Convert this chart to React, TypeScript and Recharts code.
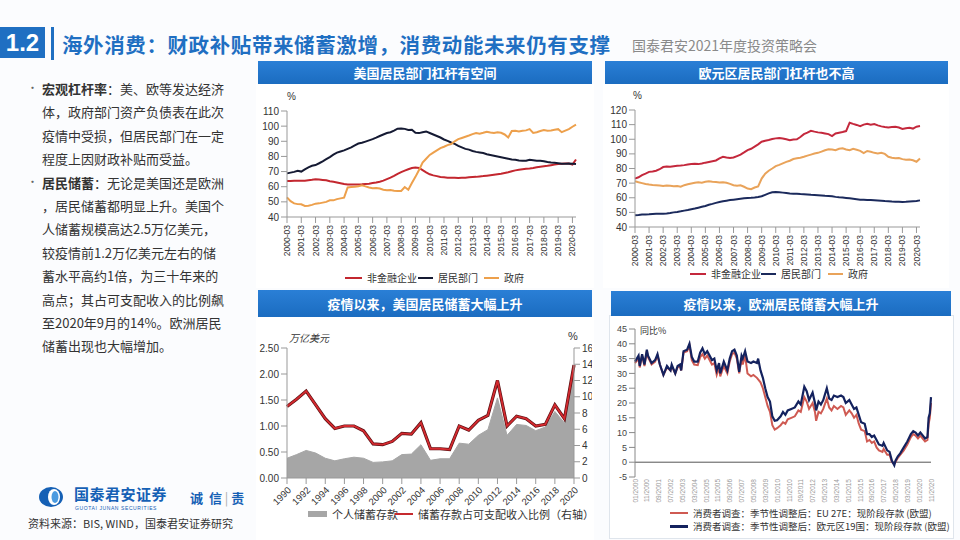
import React from 'react';
import { LineChart, Line, ComposedChart, Area, XAxis, YAxis, ReferenceLine } from 'recharts';

const FONT = '"Noto Sans CJK SC", "Liberation Sans", sans-serif';
const NUM_FONT = '"Liberation Sans", Arial, sans-serif';

// ---- US leverage, quarterly 2000-03 .. 2020-06 (% of GDP)
const US_CORP = [
  63.8, 63.8, 64, 64, 63.9, 64, 64.3, 64.6, 65, 64.8, 64.5, 64.2, 63.6, 63.3, 62.8, 62.3,
  61.8, 61.5, 61.5, 61.4, 61.5, 61.6, 61.8, 62, 62.4, 62.8, 63.3, 64, 65, 66, 67.2, 68.5,
  69.6, 70.6, 71.5, 72.3, 72.7, 72.4, 71, 69.5, 68.2, 67.5, 67, 66.4, 66.2, 66, 66, 65.9,
  65.8, 65.9, 66, 66.2, 66.4, 66.5, 66.8, 67, 67.3, 67.6, 67.9, 68.2, 68.5, 69, 69.5, 70.2,
  70.8, 71.2, 71.5, 71.8, 72, 72.3, 72.8, 73.2, 73.5, 73.8, 74.2, 74.6, 75, 75.2, 75.3, 75.3,
  74.6, 78,
];
const US_HOUSE = [
  68.8, 69.3, 69.8, 70.5, 70, 71.5, 72.8, 73.8, 74.3, 75.5, 76.8, 78.2, 79.6, 81.2, 82.5, 83.3,
  84, 85, 86, 87.3, 88.5, 89, 89.8, 90.6, 91.4, 92.4, 93.5, 94.5, 95.5, 96, 97, 98.3,
  98.5, 98.2, 97.5, 97.6, 95.6, 95.4, 96, 96.5, 95.5, 94.5, 93.5, 92.5, 91.2, 90.3, 89.2, 88.3,
  87, 86, 85, 84.5, 83.6, 83, 82.6, 82.2, 81.5, 81, 80.5, 80, 79.5, 79, 78.5, 78,
  77.8, 77.3, 77.1, 77.2, 77.8, 77.5, 77.2, 77.2, 76.8, 76.3, 76, 75.8, 75.5, 75.2, 75.1, 75.3,
  75.2, 75,
];
const US_GOV = [
  53, 50.5, 49, 48.5, 48.4, 47.3, 47.5, 48, 48.8, 49, 49.5, 50, 51, 51, 51.8, 52.3,
  52.8, 59.5, 59.8, 60, 60.3, 61, 60.2, 59.5, 59, 59.2, 58.8, 58, 57.7, 57.8, 57.3, 57.2,
  57.2, 59.8, 58, 62.5, 66.5, 71, 76, 78.5, 81, 82.5, 84, 85.5, 86.4, 87.5, 88.2, 90,
  91.4, 92.2, 93, 93.8, 94.7, 95.5, 95, 95.6, 96.3, 95.8, 95.5, 96, 95.6, 94.5, 92.5, 96.8,
  97, 96.5, 97, 97.2, 98, 95.5, 96, 96.8, 97.4, 97, 97.2, 97.6, 98, 96, 97, 98,
  99.6, 101,
];

// ---- Euro area leverage, quarterly 2000-03 .. 2020-06
const EA_CORP = [
  73.1, 74, 75.5, 76.5, 77.7, 78, 78.5, 79.5, 81, 81.3, 81.2, 81.5, 81.8, 82, 82.3, 82.8,
  83, 83.2, 83, 83.4, 84, 84.5, 85, 85.5, 86.9, 88, 87.5, 87.2, 87.5, 88.5, 89.5, 91,
  92.6, 93.5, 95, 96.5, 98.3, 99, 99.5, 100.2, 100.6, 100.8, 100.5, 100, 99.4, 99.8, 100, 101.5,
  103.5, 104.5, 105.8, 105.2, 104.7, 104.5, 104, 103.5, 102.2, 104, 104.5, 105, 105.6, 111.3, 110.5, 109.8,
  109, 110, 110.5, 110, 110.4, 109.5, 108.8, 108.4, 108.1, 108.3, 108.5, 108, 107, 107.5, 107.8, 107.3,
  108.6, 109,
];
const EA_HOUSE = [
  48, 48.2, 48.5, 48.6, 48.7, 48.9, 49, 49, 49.1, 49.3, 49.6, 50, 50.3, 50.7, 51.2, 51.6,
  52.1, 52.6, 53.2, 53.8, 54.4, 55.2, 55.8, 56.5, 57.1, 57.6, 58, 58.4, 58.7, 59, 59.3, 59.6,
  59.9, 60, 60.2, 60.5, 61, 62, 63, 63.8, 64, 63.8, 63.5, 63.2, 62.9, 62.8, 62.7, 62.5,
  62.4, 62.2, 62, 61.9, 61.7, 61.5, 61.3, 61.2, 61, 60.6, 60.3, 60.1, 59.9, 59.6, 59.3, 59,
  58.7, 58.6, 58.5, 58.4, 58.3, 58.1, 57.9, 57.7, 57.6, 57.4, 57.3, 57.2, 57.1, 57.2, 57.4, 57.6,
  57.8, 58.2,
];
const EA_GOV = [
  71.3, 70.6, 70, 69.4, 69, 68.7, 68.5, 68.3, 68.1, 68.4, 68.2, 67.9, 68, 67.5, 68.6, 69.2,
  69.7, 70.2, 70.6, 70.3, 70.9, 71.3, 71, 70.8, 70.4, 70.6, 70.2, 69.5, 68.6, 68.2, 68.5, 67.5,
  66.3, 65.8, 67, 67.8, 73.1, 76.5, 78.5, 80, 81.6, 82.5, 83.5, 84.5, 85.3, 86.5, 87, 87.4,
  88, 88.8, 89.5, 90.2, 90.7, 91.5, 92.5, 93.2, 93, 92.5, 93.5, 93.8, 93, 92.5, 93.4, 92.8,
  92.1, 90.5, 92, 91.5, 90.7, 90.3, 90.8, 90, 88, 87.4, 87, 87.2, 86.4, 86, 86.2, 85.6,
  84.6, 86.9,
];

const QUARTERS = US_CORP.map((_, i) => `${2000 + Math.floor(i / 4)}-${['03', '06', '09', '12'][i % 4]}`);

// ---- US personal saving, annual
const YEARS = [
  1990, 1991, 1992, 1993, 1994, 1995, 1996, 1997, 1998, 1999, 2000, 2001, 2002, 2003, 2004, 2005,
  2006, 2007, 2008, 2009, 2010, 2011, 2012, 2013, 2014, 2015, 2016, 2017, 2018, 2019, 2020,
];
const SAVING = [
  0.38, 0.45, 0.53, 0.48, 0.38, 0.33, 0.37, 0.4, 0.38, 0.3, 0.31, 0.33, 0.45, 0.46, 0.64, 0.34,
  0.37, 0.37, 0.67, 0.65, 0.82, 0.93, 1.54, 0.82, 1.03, 1.01, 0.91, 0.98, 1.28, 1.06, 2.16,
];
const SAVING_RATIO = [
  8.8, 9.7, 10.7, 9.0, 7.3, 6.1, 6.4, 6.4, 5.8, 4.2, 4.1, 4.5, 5.5, 5.4, 6.8, 3.6,
  3.6, 3.5, 6.4, 5.9, 7.1, 7.7, 12.0, 6.4, 7.6, 7.3, 6.4, 6.6, 9.0, 7.3, 13.9,
];
const YEAR_TICKS = [1990, 1992, 1994, 1996, 1998, 2000, 2002, 2004, 2006, 2008, 2010, 2012, 2014, 2016, 2018, 2020];

// ---- European deposits, months since 01/2000
const EU_MONTH = [
  0, 3, 4, 6, 8, 10, 11, 14, 17, 19, 21, 24, 27, 30, 31, 34, 36, 38, 39, 41, 44, 46, 48, 50, 53,
  55, 57, 59, 61, 63, 65, 67, 69, 71, 72, 75, 78, 80, 82, 84, 86, 88, 90, 91, 93, 95, 98, 100, 103,
  104, 106, 108, 110, 112, 114, 116, 118, 120, 123, 125, 127, 129, 132, 135, 138, 140, 143, 145, 147,
  150, 152, 153, 155, 157, 159, 162, 164, 166, 168, 171, 174, 176, 178, 181, 183, 185, 187, 189, 191,
  194, 196, 198, 200, 202, 204, 206, 209, 210, 213, 215, 217, 219, 220, 222, 224, 227, 230, 233, 235,
  237, 239, 241, 243, 245, 247, 248, 249, 250,
];
const EZ19 = [
  34, 36, 32.5, 36.5, 33, 38, 36, 33.5, 34.5, 36.5, 33, 29.5, 32.5, 31, 33, 30, 32.5, 33, 31, 37.5, 38, 40, 35.5, 34, 34,
  37, 38.5, 36.5, 37.5, 36, 34.5, 35, 31, 33.5, 30, 34, 31, 35, 37.5, 38, 36, 30.5, 36, 35, 37.5, 34, 33.5, 34, 33.5,
  35, 31, 28.5, 25, 22, 20.5, 15.5, 14, 14.2, 15.5, 17, 16, 17.5, 18, 18.5, 20.5, 19.5, 25.5, 24, 21,
  23.5, 20, 17.5, 20.5, 19.5, 21, 25, 21.5, 21, 22.5, 22, 22.5, 22, 20, 21, 19.5, 18, 18.5, 16, 13.5,
  13, 9.5, 9.5, 8.5, 9, 7.5, 6, 5.5, 6.5, 4, 3.5, 0.5, -1, 0.5, 2, 3, 5, 7, 9.5, 10.5,
  10, 9, 10, 9, 8, 8.5, 15, 16.5, 22,
];
const EU27 = [
  33.5, 35, 32, 36, 32.5, 37.5, 35.5, 33, 34, 36, 33, 29.5, 32, 31, 32.5, 30, 32, 32.5, 31, 37, 37.5, 39.5, 34.5, 33, 32.8,
  35.5, 36.5, 35, 36, 34.5, 33, 33.5, 29.5, 32, 29, 32.5, 30, 34, 36.5, 37, 35, 30, 35, 33, 36, 30, 29, 29.5, 28.5,
  28, 27, 25, 22, 19, 17, 12.5, 11, 11.5, 12.5, 13.5, 13, 14.5, 15, 15.5, 17.5, 17, 22, 20.5, 18,
  20, 17, 14, 17, 16.5, 18, 21.5, 18.5, 17.5, 19, 18, 19, 18.5, 16, 17.5, 16.5, 15, 16, 13, 11,
  10.5, 7, 7.5, 6.5, 7, 5, 4, 3.5, 4.5, 2.5, 2.5, 0, -0.5, 0, 1.5, 2.5, 4, 6, 8.5, 9.5,
  9, 8, 9, 8, 7, 7.5, 13, 15, 20,
];
const MONTH_TICKS = [0, 10, 20, 30, 40, 50, 60, 70, 80, 90, 100, 110, 120, 130, 140, 150, 160, 170, 180, 190, 200, 210, 220, 230, 240, 250];
const MONTH_LABELS = [
  '01/2000', '11/2000', '09/2001', '07/2002', '05/2003', '03/2004', '01/2005', '11/2005', '09/2006',
  '07/2007', '05/2008', '03/2009', '01/2010', '11/2010', '09/2011', '07/2012', '05/2013', '03/2014',
  '01/2015', '11/2015', '09/2016', '07/2017', '05/2018', '03/2019', '01/2020', '11/2020',
];

const usRows = QUARTERS.map((q, i) => ({ q, corp: US_CORP[i], house: US_HOUSE[i], gov: US_GOV[i] }));
const eaRows = QUARTERS.map((q, i) => ({ q, corp: EA_CORP[i], house: EA_HOUSE[i], gov: EA_GOV[i] }));
const savingRows = YEARS.map((y, i) => ({ y, saving: SAVING[i], ratio: SAVING_RATIO[i] }));
const depositRows = EU_MONTH.map((m, i) => ({ m, ez: EZ19[i], eu: EU27[i] }));

const BLUE = '#1f6fc2';
const axisTick = { fontSize: 10, fill: '#333', fontFamily: NUM_FONT };

const TitleBar = ({ x, y, w, h, text }: { x: number; y: number; w: number; h: number; text: string }) => (
  <div
    style={{
      position: 'absolute', left: x, top: y, width: w, height: h,
      background: 'linear-gradient(#2a7fd6, #1b6cc0)', color: '#fff', fontWeight: 700,
      fontSize: 13, lineHeight: `${h}px`, textAlign: 'center', fontFamily: FONT,
    }}
  >
    {text}
  </div>
);

const Key = ({ x, y, color, text, w = 16, thick = 2, size = 10 }: any) => (
  <div style={{ position: 'absolute', left: x, top: y, height: 12, lineHeight: '12px', display: 'flex', alignItems: 'center', fontFamily: FONT, fontSize: size, color: '#333', whiteSpace: 'nowrap' }}>
    <span style={{ display: 'inline-block', width: w, height: thick, background: color, marginRight: 5 }} />
    {text}
  </div>
);

const Abs = ({ x, y, children, style }: any) => (
  <div style={{ position: 'absolute', left: x, top: y, whiteSpace: 'nowrap', ...style }}>{children}</div>
);

const LINES = [
  [<b key="b">宏观杠杆率</b>, '：美、欧等发达经济'],
  ['体，政府部门资产负债表在此次'],
  ['疫情中受损，但居民部门在一定'],
  ['程度上因财政补贴而受益。'],
  [<b key="b">居民储蓄</b>, '：无论是美国还是欧洲'],
  ['，居民储蓄都明显上升。美国个'],
  ['人储蓄规模高达2.5万亿美元，'],
  ['较疫情前1.2万亿美元左右的储'],
  ['蓄水平高约1倍，为三十年来的'],
  ['高点；其占可支配收入的比例飙'],
  ['至2020年9月的14%。欧洲居民'],
  ['储蓄出现也大幅增加。'],
];

export default function App() {
  return (
    <div style={{ position: 'fixed', left: 0, top: 0, width: 960, height: 540, background: '#fbfcfe', overflow: 'hidden', fontFamily: FONT }}>
      {/* header */}
      <div style={{ position: 'absolute', left: 0, top: 27, width: 45, height: 31, background: BLUE, color: '#fff', fontWeight: 700, fontSize: 24, lineHeight: '31px', textAlign: 'center', fontFamily: NUM_FONT }}>1.2</div>
      <div style={{ position: 'absolute', left: 51, top: 27, width: 3, height: 33, background: BLUE }} />
      <Abs x={62} y={29} style={{ fontSize: 20.5, fontWeight: 700, color: BLUE, letterSpacing: 0.6 }}>海外消费：财政补贴带来储蓄激增，消费动能未来仍有支撑</Abs>
      <Abs x={632} y={35} style={{ fontSize: 14, color: '#8a8a8a' }}>国泰君安2021年度投资策略会</Abs>

      {/* left text */}
      {LINES.map((ln, i) => (
        <Abs key={i} x={42} y={79 + i * 23.4} style={{ fontSize: 13, color: '#333' }}>{ln}</Abs>
      ))}
      <Abs x={27} y={79} style={{ fontSize: 11, color: '#666' }}>•</Abs>
      <Abs x={27} y={79 + 4 * 23.4} style={{ fontSize: 11, color: '#666' }}>•</Abs>

      {/* logo */}
      <svg style={{ position: 'absolute', left: 38, top: 486 }} width={26} height={22}>
        <ellipse cx={13} cy={11} rx={12} ry={10} fill="#1560b5" />
        <ellipse cx={16} cy={11} rx={6} ry={8} fill="#fff" />
        <ellipse cx={17} cy={11} rx={3.5} ry={6} fill="#4a9ae0" />
      </svg>
      <Abs x={74} y={484} style={{ fontSize: 15, lineHeight: '20px', fontWeight: 700, color: '#1560b5', letterSpacing: 0.5 }}>国泰君安证券</Abs>
      <Abs x={75} y={505} style={{ fontSize: 5, lineHeight: '6px', color: '#1560b5', fontFamily: NUM_FONT, letterSpacing: 0.6 }}>GUOTAI JUNAN SECURITIES</Abs>
      <Abs x={190} y={488} style={{ fontSize: 13, color: '#1560b5', fontWeight: 700 }}>诚&nbsp;&nbsp;信&nbsp;<span style={{ color: '#aaa', fontWeight: 400 }}>|</span>&nbsp;责</Abs>
      <Abs x={28} y={515} style={{ fontSize: 11, color: '#333' }}>资料来源：BIS, WIND，国泰君安证券研究</Abs>

      {/* panels */}
      <div style={{ position: 'absolute', left: 256, top: 84, width: 338, height: 204, background: '#fff' }} />
      <div style={{ position: 'absolute', left: 603, top: 84, width: 346, height: 204, background: '#fff' }} />
      <div style={{ position: 'absolute', left: 256, top: 317, width: 338, height: 223, background: '#fff' }} />
      <div style={{ position: 'absolute', left: 609, top: 315, width: 343, height: 222, background: '#fff', border: '1px solid #dfe5ec' }} />

      <TitleBar x={258} y={61} w={334} h={23} text="美国居民部门杠杆有空间" />
      <TitleBar x={605} y={61} w={343} h={23} text="欧元区居民部门杠杆也不高" />
      <TitleBar x={258} y={290} w={334} h={27} text="疫情以来，美国居民储蓄大幅上升" />
      <TitleBar x={611} y={291} w={340} h={25} text="疫情以来，欧洲居民储蓄大幅上升" />

      {/* chart 1: US leverage */}
      <Abs x={287} y={91} style={{ fontSize: 10, color: '#333', fontFamily: NUM_FONT }}>%</Abs>
      <div style={{ position: 'absolute', left: 258, top: 84 }}>
        <LineChart width={334} height={176} data={usRows} margin={{ top: 27, right: 16, bottom: 0, left: 3 }}>
          <XAxis dataKey="q" interval={3} angle={-90} textAnchor="end" height={43} dx={-3} tick={{ fontSize: 8.5, fill: '#333', fontFamily: NUM_FONT }} tickLine={{ stroke: '#999' }} axisLine={{ stroke: '#999' }} />
          <YAxis domain={[40, 110]} ticks={[40, 50, 60, 70, 80, 90, 100, 110]} interval={0} width={26} tick={axisTick} tickLine={{ stroke: '#999' }} axisLine={{ stroke: '#999' }} />
          <Line dataKey="corp" stroke="#c3272f" strokeWidth={2} dot={false} isAnimationActive={false} />
          <Line dataKey="house" stroke="#151a33" strokeWidth={2} dot={false} isAnimationActive={false} />
          <Line dataKey="gov" stroke="#eda04c" strokeWidth={2} dot={false} isAnimationActive={false} />
        </LineChart>
      </div>
      <Key x={345} y={272} color="#c3272f" text="非金融企业" w={17} />
      <Key x={418} y={272} color="#151a33" text="居民部门" w={15} />
      <Key x={484} y={272} color="#eda04c" text="政府" w={15} />

      {/* chart 2: Euro area leverage */}
      <Abs x={633} y={90} style={{ fontSize: 10, color: '#333', fontFamily: NUM_FONT }}>%</Abs>
      <div style={{ position: 'absolute', left: 600, top: 84 }}>
        <LineChart width={345} height={182} data={eaRows} margin={{ top: 26, right: 25, bottom: 0, left: 7 }}>
          <XAxis dataKey="q" interval={3} angle={-90} textAnchor="end" height={39} dx={-3} tick={{ fontSize: 8.5, fill: '#333', fontFamily: NUM_FONT }} tickLine={{ stroke: '#999' }} axisLine={{ stroke: '#999' }} />
          <YAxis domain={[40, 120]} ticks={[40, 50, 60, 70, 80, 90, 100, 110, 120]} interval={0} width={28} tick={axisTick} tickLine={{ stroke: '#999' }} axisLine={{ stroke: '#999' }} />
          <Line dataKey="corp" stroke="#c4283c" strokeWidth={2} dot={false} isAnimationActive={false} />
          <Line dataKey="house" stroke="#1b2a5c" strokeWidth={2} dot={false} isAnimationActive={false} />
          <Line dataKey="gov" stroke="#e9a35a" strokeWidth={2} dot={false} isAnimationActive={false} />
        </LineChart>
      </div>
      <Key x={690} y={268} color="#c4283c" text="非金融企业" w={16} />
      <Key x={761} y={268} color="#1b2a5c" text="居民部门" w={15} />
      <Key x={828} y={268} color="#e9a35a" text="政府" w={15} />

      {/* chart 3: US saving */}
      <Abs x={289} y={330} style={{ fontSize: 10, color: '#333', fontStyle: 'italic' }}>万亿美元</Abs>
      <Abs x={568} y={330} style={{ fontSize: 11, color: '#333', fontFamily: NUM_FONT }}>%</Abs>
      <div style={{ position: 'absolute', left: 258, top: 317 }}>
        <ComposedChart width={334} height={190} data={savingRows} margin={{ top: 31, right: 0, bottom: 0, left: 2 }}>
          <XAxis dataKey="y" type="number" domain={[1990, 2020]} ticks={YEAR_TICKS} interval={0} angle={-45} textAnchor="end" height={29} tick={{ fontSize: 9.5, fill: '#333', fontFamily: NUM_FONT }} tickLine={{ stroke: '#999' }} axisLine={{ stroke: '#999' }} />
          <YAxis yAxisId="l" domain={[0, 2.5]} ticks={[0, 0.5, 1, 1.5, 2, 2.5]} interval={0} tickFormatter={(v: number) => v.toFixed(2)} width={27} tick={axisTick} tickLine={{ stroke: '#999' }} axisLine={{ stroke: '#999' }} />
          <YAxis yAxisId="r" orientation="right" domain={[0, 16]} ticks={[0, 2, 4, 6, 8, 10, 12, 14, 16]} interval={0} width={18} tick={axisTick} tickLine={{ stroke: '#999' }} axisLine={{ stroke: '#999' }} />
          <Area yAxisId="l" dataKey="saving" type="linear" fill="#a6a6a6" fillOpacity={1} stroke="#a6a6a6" strokeWidth={1} isAnimationActive={false} />
          <Line yAxisId="r" dataKey="ratio" type="linear" stroke="#5a0f12" strokeWidth={3.2} dot={false} isAnimationActive={false} />
          <Line yAxisId="r" dataKey="ratio" type="linear" stroke="#d42a2f" strokeWidth={1.8} dot={false} isAnimationActive={false} />
        </ComposedChart>
      </div>
      <Key x={308} y={508} color="#a6a6a6" text="个人储蓄存款" w={19} thick={6} size={11} />
      <Key x={395} y={508} color="#c62a2f" text="储蓄存款占可支配收入比例（右轴）" w={18} thick={2} size={11} />

      {/* chart 4: European deposits */}
      <Abs x={640} y={324} style={{ fontSize: 9, color: '#333' }}>同比%</Abs>
      <div style={{ position: 'absolute', left: 600, top: 317 }}>
        <LineChart width={345} height={190} data={depositRows} margin={{ top: 12, right: 14, bottom: 0, left: 7 }}>
          <XAxis dataKey="m" type="number" domain={[0, 250]} ticks={MONTH_TICKS} interval={0} tickFormatter={(v: number) => MONTH_LABELS[MONTH_TICKS.indexOf(v)]} angle={-90} textAnchor="end" height={30} tickSize={1} tickMargin={1} dx={-2} axisLine={false} tickLine={false} tick={{ fontSize: 6.5, fill: '#999', fontFamily: NUM_FONT }} />
          <YAxis domain={[-5, 45]} ticks={[-5, 0, 5, 10, 15, 20, 25, 30, 35, 40, 45]} interval={0} width={28} tick={{ fontSize: 9, fill: '#444', fontFamily: NUM_FONT }} tickLine={{ stroke: '#888' }} axisLine={{ stroke: '#888' }} />
          <ReferenceLine y={0} stroke="#555" strokeWidth={1} />
          <Line dataKey="eu" type="linear" stroke="#cf5a52" strokeWidth={2} dot={false} isAnimationActive={false} />
          <Line dataKey="ez" type="linear" stroke="#14225e" strokeWidth={2.2} dot={false} isAnimationActive={false} />
        </LineChart>
      </div>
      <Key x={670} y={507} color="#cf5a52" text="消费者调查：季节性调整后：EU 27E：现阶段存款 (欧盟)" w={18} thick={2} size={9.5} />
      <Key x={670} y={520} color="#14225e" text="消费者调查：季节性调整后：欧元区19国：现阶段存款 (欧盟)" w={18} thick={3} size={9.5} />
    </div>
  );
}
